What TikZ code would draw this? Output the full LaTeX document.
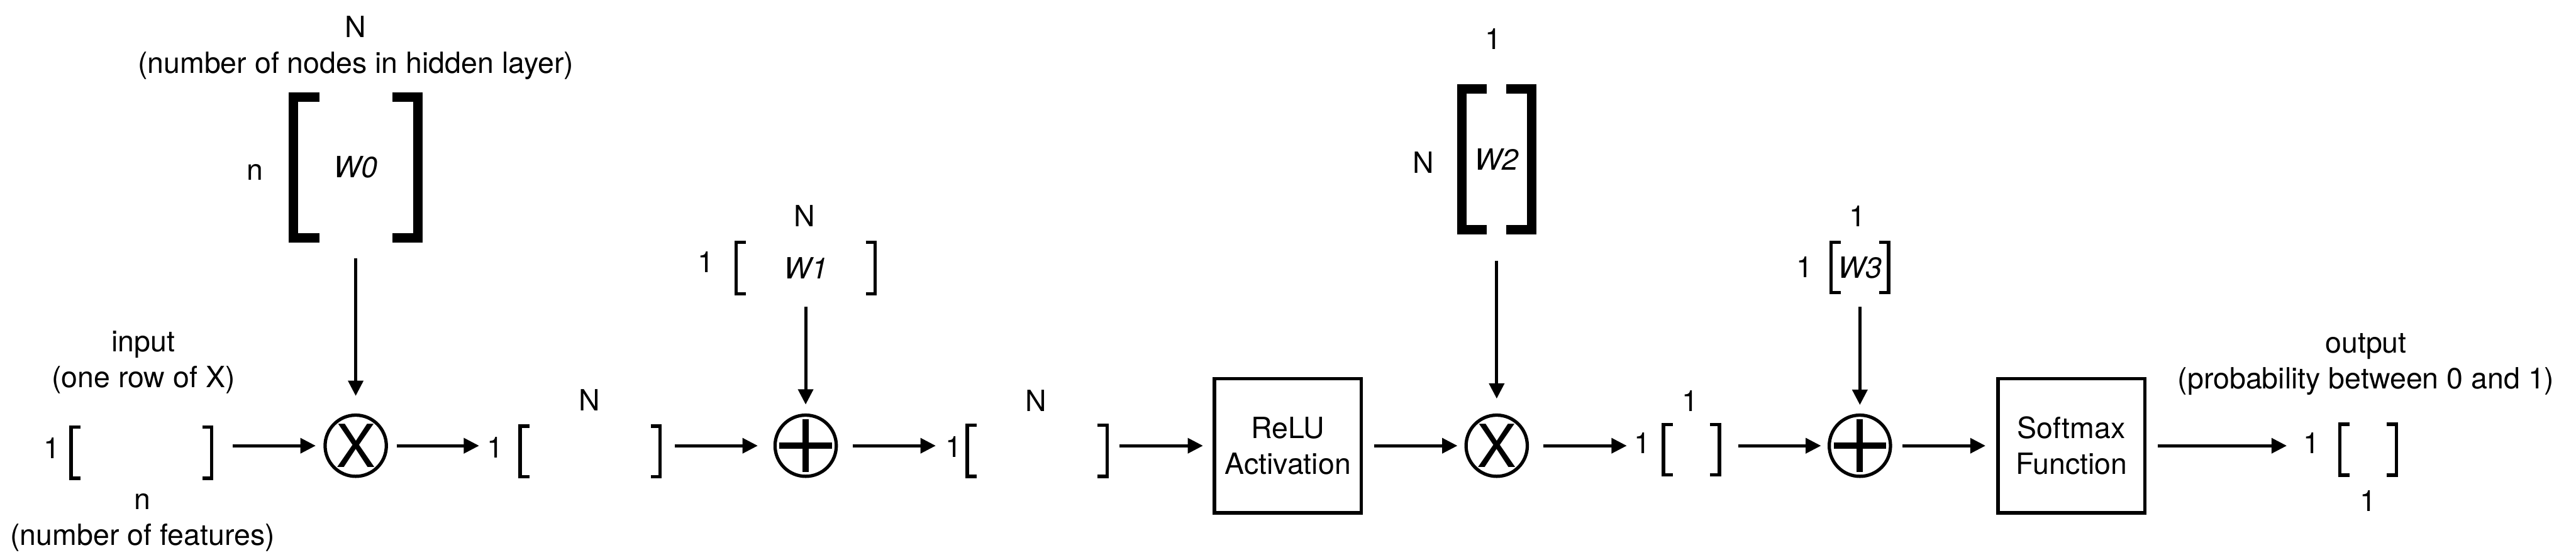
\documentclass[tikz,border=0pt]{standalone}
\usepackage{fontspec}
\setmainfont{TeX Gyre Heros}
\usetikzlibrary{arrows.meta}
\tikzset{
  every node/.style={font=\fontsize{10.6}{12.9}\selectfont,inner sep=0pt,outer sep=0pt},
  dimlabel/.style={anchor=base},
  caption/.style={align=center},
  matrixcell/.style 2 args={minimum width=#1,minimum height=#2,font=\fontsize{10.6}{12.9}\selectfont\itshape},
  mulop/.style={draw,circle,line width=0.042cm,minimum size=0.78cm,font=\fontsize{21.5}{24}\selectfont},
  addop/.style={draw,circle,line width=0.042cm,minimum size=0.78cm,
    path picture={
      \draw[line width=0.08cm] ([yshift=0.335cm]path picture bounding box.center) -- ([yshift=-0.335cm]path picture bounding box.center)
        ([xshift=-0.335cm]path picture bounding box.center) -- ([xshift=0.335cm]path picture bounding box.center);
    }},
  funcbox/.style={draw,line width=0.042cm,minimum width=1.87cm,minimum height=1.71cm,align=center},
  flow/.style={line width=0.04cm,-{Triangle[length=0.195cm,width=0.19cm]}}
}

\begin{document}
\begin{tikzpicture}
  \useasboundingbox (0,0) rectangle (32.805,7.13);

  % matrices
  \node[matrixcell={1.79cm}{0.655cm}] (inp) at (1.80,1.3625) {};
  \node[matrixcell={1.59cm}{1.795cm}] (w0) at (4.53,4.9975) {W0};
  \node[matrixcell={1.785cm}{0.645cm}] (h1) at (7.515,1.3775) {};
  \node[matrixcell={1.77cm}{0.66cm}] (w1) at (10.26,3.715) {W1};
  \node[matrixcell={1.78cm}{0.65cm}] (h2) at (13.2075,1.385) {};
  \node[matrixcell={0.89cm}{1.79cm}] (w2) at (19.06,5.10) {W2};
  \node[matrixcell={0.715cm}{0.64cm}] (h3) at (21.54,1.40) {};
  \node[matrixcell={0.73cm}{0.64cm}] (w3) at (23.685,3.72) {W3};
  \node[matrixcell={0.72cm}{0.65cm}] (out) at (30.1575,1.40) {};

  \foreach \m/\arm/\lw in {inp/0.12/0.043,h1/0.12/0.043,h2/0.12/0.043,h3/0.12/0.043,out/0.12/0.043,
                           w1/0.12/0.043,w3/0.12/0.043,w0/0.33/0.12,w2/0.32/0.12}
    \draw[line width=\lw cm] (\m.north west) ++(\arm,0) -- (\m.north west) -- (\m.south west) -- ++(\arm,0)
      (\m.north east) ++(-\arm,0) -- (\m.north east) -- (\m.south east) -- ++(-\arm,0);

  % operations
  \node[mulop] (mul0) at (4.53,1.45) {X};
  \node[addop] (add0) at (10.26,1.45) {};
  \node[funcbox] (relu) at (16.40,1.45) {ReLU\\Activation};
  \node[mulop] (mul1) at (19.06,1.45) {X};
  \node[addop] (add1) at (23.685,1.45) {};
  \node[funcbox] (soft) at (26.38,1.45) {Softmax\\Function};

  % sizes and captions
  \node[caption,anchor=north] (inp-note) at (1.825,2.91) {input\\(one row of X)};
  \node[caption,anchor=south] (inp-cols) at (1.815,0.105) {n\\(number of features)};
  \node[dimlabel] (inp-rows) at (0.66,1.285) {1};
  \node[caption,anchor=north] (w0-cols) at (4.53,6.925) {N\\(number of nodes in hidden layer)};
  \node[dimlabel] (w0-rows) at (3.25,4.835) {n};
  \node[dimlabel] (h1-rows) at (6.305,1.295) {1};
  \node[dimlabel] (h1-cols) at (7.51,1.90) {N};
  \node[dimlabel] (w1-rows) at (8.99,3.66) {1};
  \node[dimlabel] (w1-cols) at (10.245,4.245) {N};
  \node[dimlabel] (h2-rows) at (12.145,1.30) {1};
  \node[dimlabel] (h2-cols) at (13.19,1.89) {N};
  \node[dimlabel] (w2-rows) at (18.125,4.925) {N};
  \node[dimlabel] (w2-cols) at (19.015,6.505) {1};
  \node[dimlabel] (h3-rows) at (20.915,1.355) {1};
  \node[dimlabel] (h3-cols) at (21.525,1.89) {1};
  \node[dimlabel] (w3-rows) at (22.98,3.595) {1};
  \node[dimlabel] (w3-cols) at (23.655,4.245) {1};
  \node[dimlabel] (out-rows) at (29.435,1.35) {1};
  \node[dimlabel] (out-cols) at (30.16,0.615) {1};
  \node[caption,anchor=north] (out-note) at (30.13,2.88) {output\\(probability between 0 and 1)};

  % data flow
  \draw[flow,shorten <=0.27cm,shorten >=0.12cm] (inp.east |- mul0) -- (mul0);
  \draw[flow,shorten <=0.13cm,shorten >=0.10cm] (mul0) -- (mul0 -| h1-rows.west);
  \draw[flow,shorten <=0.19cm,shorten >=0.22cm] (h1.east |- add0) -- (add0);
  \draw[flow,shorten <=0.21cm,shorten >=0.125cm] (add0) -- (add0 -| h2-rows.west);
  \draw[flow,shorten <=0.16cm,shorten >=0.145cm] (h2.east |- relu) -- (relu);
  \draw[flow,shorten <=0.165cm,shorten >=0.11cm] (relu) -- (mul1);
  \draw[flow,shorten <=0.205cm,shorten >=0.095cm] (mul1) -- (mul1 -| h3-rows.west);
  \draw[flow,shorten <=0.24cm,shorten >=0.105cm] (h3.east |- add1) -- (add1);
  \draw[flow,shorten <=0.15cm,shorten >=0.16cm] (add1) -- (soft);
  \draw[flow,shorten <=0.165cm,shorten >=0.21cm] (soft) -- (soft -| out-rows.west);

  % weights
  \draw[flow,shorten <=0.265cm,shorten >=0.245cm] (w0) -- (mul0);
  \draw[flow,shorten <=0.16cm,shorten >=0.135cm] (w1) -- (add0);
  \draw[flow,shorten <=0.395cm,shorten >=0.21cm] (w2) -- (mul1);
  \draw[flow,shorten <=0.18cm,shorten >=0.13cm] (w3) -- (add1);
\end{tikzpicture}
\end{document}
